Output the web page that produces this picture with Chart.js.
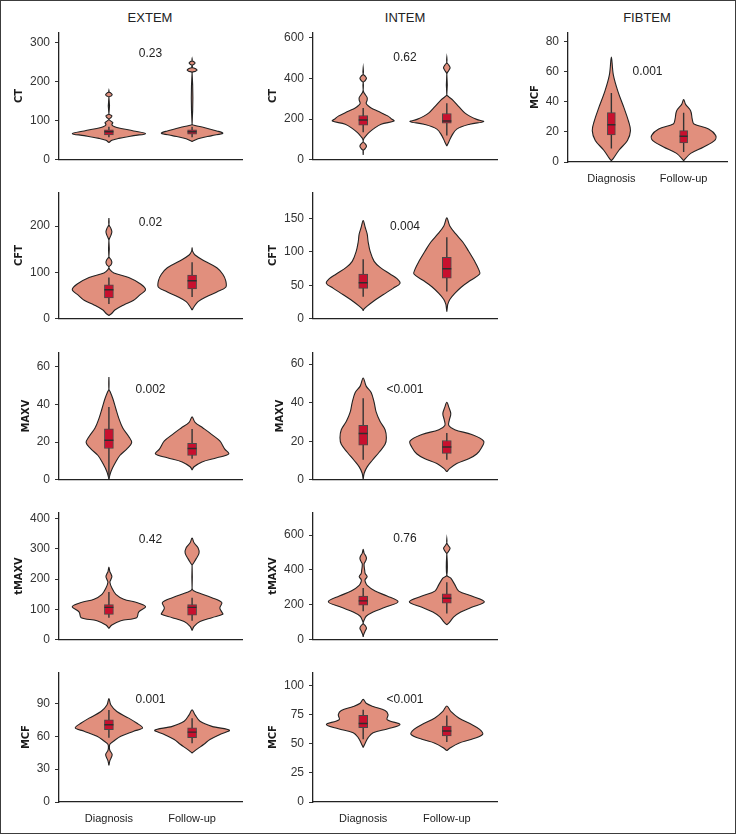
<!DOCTYPE html>
<html>
<head>
<meta charset="utf-8">
<script src="https://cdn.jsdelivr.net/npm/chart.js@4.4.1/dist/chart.umd.min.js"></script>
<style>
html,body{margin:0;padding:0;background:#fff;}
#page{position:relative;width:736px;height:834px;overflow:hidden;background:#fff;}
#frame{position:absolute;left:0;top:0;width:736px;height:834px;box-sizing:border-box;border:1px solid #3c3c3c;pointer-events:none;}
canvas{position:absolute;}
.hdr{position:absolute;top:10px;line-height:15px;font-size:13px;font-family:'Liberation Sans',Arial,sans-serif;color:#222;transform:translateX(-50%);white-space:nowrap;}
</style>
</head>
<body>
<div id="page">
  <div class="hdr" style="left:150px">EXTEM</div>
  <div class="hdr" style="left:405px">INTEM</div>
  <div class="hdr" style="left:647px">FIBTEM</div>
  <div id="frame"></div>
</div>
<script>
// ---------------- DATA ----------------
const categories = ['Diagnosis', 'Follow-up'];
const yTitles = ['CT', 'CT', 'MCF', 'CFT', 'CFT', 'MAXV', 'MAXV', 'tMAXV', 'tMAXV', 'MCF', 'MCF'];
const pValues = ['0.23', '0.62', '0.001', '0.02', '0.004', '0.002', '<0.001', '0.42', '0.76', '0.001', '<0.001'];

// y tick labels
const ticksExtemCT = [0, 100, 200, 300];
const ticksIntemCT = [0, 200, 400, 600];
const ticksFibtemMCF = [0, 20, 40, 60, 80];
const ticksExtemCFT = [0, 100, 200];
const ticksIntemCFT = [0, 50, 100, 150];
const ticksExtemMAXV = [0, 20, 40, 60];
const ticksIntemMAXV = [0, 20, 40, 60];
const ticksExtemTMAXV = [0, 100, 200, 300, 400];
const ticksIntemTMAXV = [0, 200, 400, 600];
const ticksExtemMCF = [0, 30, 60, 90];
const ticksIntemMCF = [0, 25, 50, 75, 100];

// violin outlines: [value, density half-width]
const vExtemCT_Dx = [[44,0],[50,3],[55,10],[62,25],[67,37],[74,25],[83,8],[87,4],[91,3],[95,4],[99,2],[104,0],[108,2],[113,3],[118,0],[160,0],[164,2.5],[167,3.3],[171,2],[174,0],[178,0]];
const vExtemCT_Fu = [[47,0],[54,6],[62,20],[68,31],[74,25],[83,12],[88,3],[91,0],[223,0],[227,3.5],[230,5],[234,3],[237,0],[242,0],[245,2],[248,3],[251,2],[254,0],[259,0]];
const vIntemCT_Dx = [[24,0],[45,0],[55,2],[67,3.3],[79,2],[90,0],[107,1],[119,3],[135,6],[151,10],[175,18],[191,31],[203,28],[215,25],[239,15],[255,8],[266,5],[278,3],[294,4],[306,4],[318,2.5],[334,0.5],[345,0],[380,0],[390,2],[401,3.3],[412,2],[422,0],[453,0]];
const vIntemCT_Fu = [[68,0],[88,2],[119,5],[151,10],[175,23],[188,37],[199,30],[215,23],[231,18],[262,12],[294,6],[310,2],[320,0],[422,0],[440,2],[453,3.3],[466,2],[480,0],[504,0]];
const vFibtemMCF_Dx = [[0.8,0],[2.4,2.3],[7.8,8.8],[14.3,18.7],[20.8,22.2],[27.3,19.8],[36,14.6],[46.8,7.6],[57.7,2.3],[69.6,0]];
const vFibtemMCF_Fu = [[0.8,0],[1.7,1.2],[5.7,8.2],[10,23.3],[14.3,36.2],[17.6,37.3],[21.9,29],[25.2,12],[28.4,10],[33.8,8.2],[38.2,2.3],[41.4,0]];
const vExtemCFT_Dx = [[7,0],[12,3],[19,6],[30,15],[40,25],[51,31],[62.5,37],[75,32],[89,20],[99,5],[106,1],[112,0],[116,2],[122,3],[128,2],[134,0],[169,0],[180,2],[187.5,3],[195,2],[203,0],[217,0]];
const vExtemCFT_Fu = [[19,0],[26,2],[37,6],[47,14],[58,25],[68,34],[82,34],[96,31],[110,25],[124,13],[137.5,3],[146,0.5],[153,0]];
const vIntemCFT_Dx = [[12,0],[14,0.5],[19,4],[26,10],[36,20],[45.6,30],[53,37],[60,34],[67,27],[77,17],[86,11],[101,7],[115,5],[127,4],[137,2],[147,0]];
const vIntemCFT_Fu = [[10.5,0],[17,0.5],[22,1],[29,3],[38,8],[48,15],[57.6,24],[67,33],[74,32],[86,28],[101,22],[115,16],[127,9],[139,3],[151,0]];
const vExtemMAXV_Dx = [[0.5,0],[4.3,2],[8.6,6],[12.9,11],[16.3,18],[19.7,23],[23,20],[27.5,14],[32.6,10],[37.7,7],[43,4],[47,1],[48,0],[54.5,0]];
const vExtemMAXV_Fu = [[5.2,0],[6.9,2],[9.5,10],[11.7,25],[13.7,37],[16.3,33],[20.6,28],[24,20],[27.5,11],[30.5,3],[33.4,0]];
const vIntemMAXV_Dx = [[0,0],[3.4,1],[6.7,4],[10,9],[14.3,16],[18.4,22],[21.8,23.3],[26,22],[30.2,17],[35.2,13],[40.2,11],[45.3,8],[48.6,3],[52.8,0]];
const vIntemMAXV_Fu = [[4.2,0],[5.9,3],[8.4,10],[10.9,22],[13.4,30],[16.8,35],[20.1,37],[23.5,25],[26,8],[28.2,2],[31,2.5],[34.3,4],[37.7,2],[40.2,0]];
const vExtemTMAXV_Dx = [[38,0],[49,3],[63,12],[73,28],[91.5,30],[109.6,37],[123,28],[134,15],[150,7],[171,3],[190,1],[199,2],[208.5,3],[218,2],[224,1],[240,0]];
const vExtemTMAXV_Fu = [[31,0],[44,2],[60,8],[73,20],[84,31],[91.5,30],[105,28],[123,30],[139,20],[158,4],[163,1],[170,0],[245,0],[251,1],[267,4],[286,7],[304,6],[320,2],[336,0]];
const vIntemTMAXV_Dx = [[17,0],[30,0.5],[50,2],[66,3.3],[82,2],[94,0],[113,1],[135,3],[159,10],[186,22],[218,35],[251,24],[279,12],[312,4],[334,2],[345,2],[362,4],[380,2],[399,1.5],[420,1],[436,1],[452,2.5],[467,3.3],[482,2.5],[495,1],[519,0]];
const vIntemTMAXV_Fu = [[85,0],[103,3],[131,7],[159,14],[186,25],[218,37.7],[251,25],[279,12],[316,8],[353,4],[371,0],[491,0],[505,1.5],[524,3.3],[540,1.5],[556,0],[578,0]];
const vExtemMCF_Dx = [[33.3,0],[37.8,1],[43,3.3],[47,1],[49.7,0.5],[52.7,1],[55.7,5],[60,12],[64.6,25],[67.6,34],[72,28],[76.5,20],[82.5,8],[88.4,2],[94.4,0]];
const vExtemMCF_Fu = [[44.7,0],[48.2,5],[52.7,12],[57,18],[61.6,28],[65.5,37.7],[69,20],[73.6,8],[79.5,3],[84,0]];
const vIntemMCF_Dx = [[46.7,0],[50.4,2],[55.2,5],[59.4,10],[62.7,25],[66.4,37],[70.6,24],[74.8,25],[78.4,22],[81.8,10],[84.6,3],[87.9,0]];
const vIntemMCF_Fu = [[44,0],[46.7,4],[50.4,12],[53.8,25],[58,36],[62.2,33],[66.4,25],[72,12],[77.6,4],[82.3,0]];

// box plots: [whisker low, Q1, median, Q3, whisker high] for Diagnosis, Follow-up
const boxExtemCT = [[58,63.7,72,77,85],[58,66,72,77,85]];
const boxIntemCT = [[135,170,196,218,255],[119,180,191,228,278]];
const boxFibtemMCF = [[8.9,18,24.7,32.7,45.7],[6.7,12.6,17.1,20.8,32.7]];
const boxExtemCFT = [[32,45,62.5,73,89],[47,64.6,82,94.4,122]];
const boxIntemCFT = [[33,45.6,54,67,89],[41,61,75,92,122]];
const boxExtemMAXV = [[0.5,16.6,21,27,38.6],[11.2,12.9,16.6,19.4,27]];
const boxIntemMAXV = [[10.4,18,24,28.2,42.3],[10.4,13.7,17,20.4,24.3]];
const boxExtemTMAXV = [[73,84,107,116,158],[63,81,107,116,139]];
const boxIntemTMAXV = [[164,199,223,251,297],[150,210,238,264,330]];
const boxExtemMCF = [[58.6,66,70.5,75,84],[53.6,58.7,63.7,67.6,76.5]];
const boxIntemMCF = [[53.8,63.6,67.2,74.2,79],[51.5,56.6,60.8,65,74]];

// ---------------- LAYOUT / STYLE ----------------
const COL_LEFT = [59, 313, 568];
const COL_RIGHT = [242, 497, 727];
const ROW_TOP = [30, 190, 350, 510, 670];
const ROW_BOTTOM = [162, 321, 482, 642, 802];
const Y_W = 58, PAD_TOP = 10, PAD_R = 6;
const VIOLIN_FILL = '#E18F7D';
const BOX_FILL = '#C8102E';
const FONT = "'Liberation Sans', Arial, sans-serif";
const TITLE_FONT = "bold 11px 'Liberation Sans Narrow', 'DejaVu Sans Condensed', 'Liberation Sans', sans-serif";
const DENSITY_UNIT = 1 / 84;

const panels = [
  {ticks: ticksExtemCT, vio: [vExtemCT_Dx, vExtemCT_Fu], box: boxExtemCT, col: 0, row: 0, yMax: 327, pY: 273},
  {ticks: ticksIntemCT, vio: [vIntemCT_Dx, vIntemCT_Fu], box: boxIntemCT, col: 1, row: 0, yMax: 628, pY: 501},
  {ticks: ticksFibtemMCF, vio: [vFibtemMCF_Dx, vFibtemMCF_Fu], box: boxFibtemMCF, col: 2, row: 0, yMax: 86, pY: 59.8, cats: true},
  {ticks: ticksExtemCFT, vio: [vExtemCFT_Dx, vExtemCFT_Fu], box: boxExtemCFT, col: 0, row: 1, yMax: 273, pY: 208},
  {ticks: ticksIntemCFT, vio: [vIntemCFT_Dx, vIntemCFT_Fu], box: boxIntemCFT, col: 1, row: 1, yMax: 189.5, pY: 138},
  {ticks: ticksExtemMAXV, vio: [vExtemMAXV_Dx, vExtemMAXV_Fu], box: boxExtemMAXV, col: 0, row: 2, yMax: 67.7, pY: 48},
  {ticks: ticksIntemMAXV, vio: [vIntemMAXV_Dx, vIntemMAXV_Fu], box: boxIntemMAXV, col: 1, row: 2, yMax: 66.2, pY: 46.6},
  {ticks: ticksExtemTMAXV, vio: [vExtemTMAXV_Dx, vExtemTMAXV_Fu], box: boxExtemTMAXV, col: 0, row: 3, yMax: 421, pY: 329},
  {ticks: ticksIntemTMAXV, vio: [vIntemTMAXV_Dx, vIntemTMAXV_Fu], box: boxIntemTMAXV, col: 1, row: 3, yMax: 731, pY: 580},
  {ticks: ticksExtemMCF, vio: [vExtemMCF_Dx, vExtemMCF_Fu], box: boxExtemMCF, col: 0, row: 4, yMax: 118.4, pY: 93, cats: true},
  {ticks: ticksIntemMCF, vio: [vIntemMCF_Dx, vIntemMCF_Fu], box: boxIntemMCF, col: 1, row: 4, yMax: 111.2, pY: 87.4, cats: true}
];

Chart.defaults.font.family = FONT;
Chart.defaults.animation = false;

const textPlugin = {
  id: 'panelTexts',
  afterDraw(chart, args, opts) {
    const {ctx, chartArea, scales} = chart;
    const x = scales.x, y = scales.y;
    ctx.save();
    ctx.fillStyle = '#222';
    ctx.textAlign = 'center';
    ctx.textBaseline = 'middle';
    ctx.font = '12px ' + FONT;
    ctx.fillText(opts.p, x.getPixelForValue(1.5), y.getPixelForValue(opts.pY));
    let maxW = 0;
    y.ticks.forEach(t => { maxW = Math.max(maxW, ctx.measureText(String(t.value)).width); });
    ctx.font = TITLE_FONT;
    ctx.fillStyle = '#1a1a1a';
    const tx = chartArea.left - 9 - maxW - 5 - 6;
    ctx.translate(tx, (chartArea.top + chartArea.bottom) / 2);
    ctx.rotate(-Math.PI / 2);
    ctx.fillText(opts.title, 0, 0);
    ctx.restore();
  }
};

function violinPoints(shape, center) {
  const right = shape.map(([v, w]) => ({x: center + w * DENSITY_UNIT, y: v}));
  const left = shape.slice().reverse().map(([v, w]) => ({x: center - w * DENSITY_UNIT, y: v}));
  return right.concat(left.slice(1));
}

const page = document.getElementById('page');
const frame = document.getElementById('frame');

panels.forEach((p, i) => {
  const axisX = COL_LEFT[p.col];
  const plotW = COL_RIGHT[p.col] - axisX;
  const top = ROW_TOP[p.row];
  const plotH = ROW_BOTTOM[p.row] - top;
  const X_H = p.cats ? 30 : 10;
  const cw = Y_W + plotW + PAD_R;
  const ch = PAD_TOP + plotH + X_H;
  const cv = document.createElement('canvas');
  cv.width = cw; cv.height = ch;
  cv.style.left = (axisX - Y_W) + 'px';
  cv.style.top = (top - PAD_TOP) + 'px';
  cv.style.width = cw + 'px'; cv.style.height = ch + 'px';
  page.insertBefore(cv, frame);

  const pxPerUnit = plotW / 2.2;
  const boxPx = p.col === 2 ? 8 : 9;
  const half = (boxPx / 2) / pxPerUnit;
  const medians = [], whiskers = [], boxes = [];
  p.box.forEach((b, k) => {
    const c = k + 1;
    if (k > 0) { medians.push({x: c - 0.5, y: null}); whiskers.push({x: c - 0.5, y: null}); }
    medians.push({x: c - half, y: b[2]}, {x: c + half, y: b[2]});
    whiskers.push({x: c, y: b[0]}, {x: c, y: b[4]});
    boxes.push({x: c, y: [b[1], b[3]]});
  });
  const datasets = [
    {type: 'line', data: medians, borderColor: '#2e2e2e', borderWidth: 1.4, pointRadius: 0, tension: 0, fill: false, spanGaps: false, order: 0},
    {type: 'bar', data: boxes, backgroundColor: BOX_FILL, borderColor: '#4a4a4a', borderWidth: 1, borderSkipped: false, barThickness: boxPx, order: 1},
    {type: 'line', data: whiskers, borderColor: '#333', borderWidth: 1.4, pointRadius: 0, tension: 0, fill: false, spanGaps: false, order: 2},
    {type: 'line', data: violinPoints(p.vio[0], 1), fill: 'shape', backgroundColor: VIOLIN_FILL, borderColor: '#222', borderWidth: 1.1, pointRadius: 0, tension: 0.35, order: 3},
    {type: 'line', data: violinPoints(p.vio[1], 2), fill: 'shape', backgroundColor: VIOLIN_FILL, borderColor: '#222', borderWidth: 1.1, pointRadius: 0, tension: 0.35, order: 3}
  ];

  new Chart(cv, {
    type: 'line',
    data: {datasets},
    options: {
      responsive: false,
      animation: false,
      events: [],
      layout: {padding: {top: PAD_TOP, right: PAD_R, left: 0, bottom: 0}},
      plugins: {legend: {display: false}, tooltip: {enabled: false}, panelTexts: {p: pValues[i], pY: p.pY, title: yTitles[i]}},
      scales: {
        x: {
          type: 'linear', min: 0.4, max: 2.6, offset: false,
          afterBuildTicks: s => { s.ticks = [{value: 1}, {value: 2}]; },
          afterFit: s => { s.height = X_H; },
          grid: {display: true, drawOnChartArea: false, drawTicks: false, offset: false},
          border: {display: true, color: '#222', width: 1.3},
          ticks: {display: !!p.cats, padding: 10, color: '#222', font: {size: 11}, callback: v => categories[v - 1]}
        },
        y: {
          type: 'linear', min: 0, max: p.yMax,
          afterBuildTicks: s => { s.ticks = p.ticks.map(v => ({value: v})); },
          afterFit: s => { s.width = Y_W; },
          grid: {display: true, drawOnChartArea: false, drawTicks: true, tickLength: 4, color: '#333', lineWidth: 1},
          border: {display: true, color: '#222', width: 1.3},
          ticks: {padding: 5, color: '#333', font: {size: 12}}
        }
      }
    },
    plugins: [textPlugin]
  });
});
</script>
</body>
</html>
